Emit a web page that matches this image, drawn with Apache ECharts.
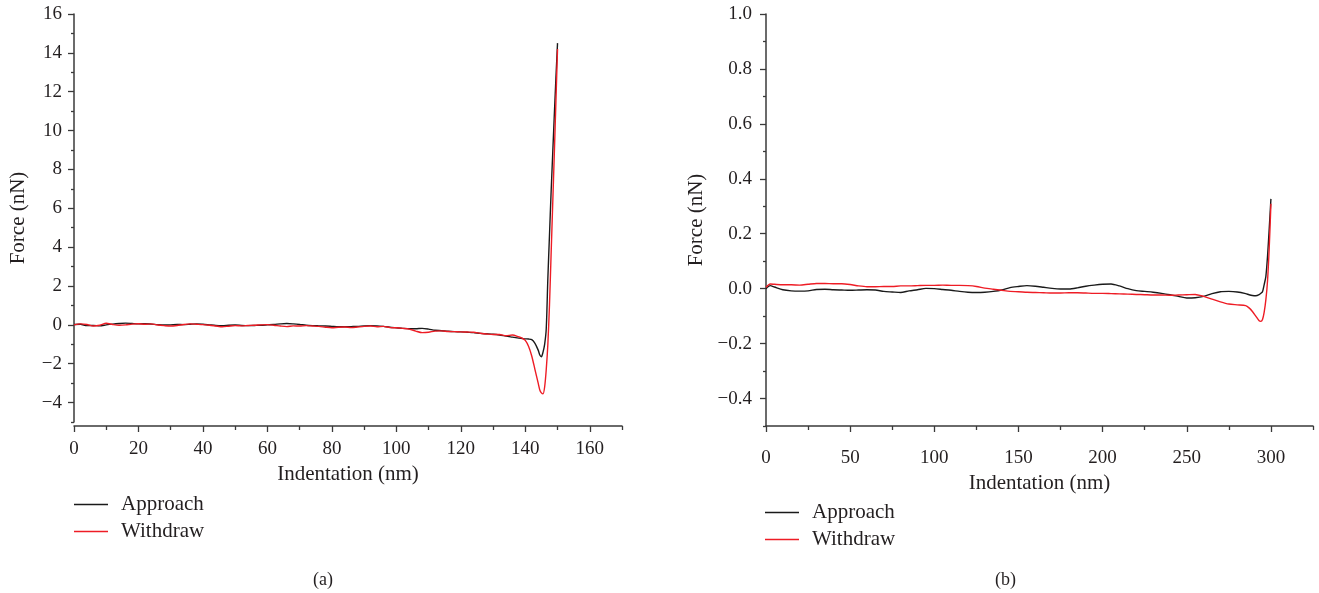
<!DOCTYPE html>
<html>
<head>
<meta charset="utf-8">
<script src="https://cdn.jsdelivr.net/npm/echarts@6/dist/echarts.min.js"></script>
<style>
html,body{margin:0;padding:0;background:#fff;}
#chart{width:1319px;height:593px;}
</style>
</head>
<body>
<div id="chart"></div>
<script>
// ---------- Data: panel (a) ----------
const indentA = [0,2,4,6,8,10,12,14,16,18,20,22,24,26,28,30,32,34,36,38,40,42,44,46,48,50,52,54,56,58,60,62,64,66,68,70,72,74,76,78,80,82,84,86,88,90,92,94,96,98,100,102,104,106,108,110,112,114,116,118,120,122,124,126,128,130,132,134,136,138,139,140,141,142,143,144,144.5,145,145.5,146,146.5,147,147.5,148,148.5,149,149.5,150];
const approachA = [0.02,0.03,-0.04,-0.03,-0.05,0.0,0.04,0.07,0.09,0.07,0.05,0.06,0.04,0.01,-0.01,0.0,0.02,0.01,0.03,0.05,0.03,0.0,-0.03,-0.04,-0.02,-0.01,-0.03,-0.04,-0.03,-0.02,0.0,0.02,0.05,0.07,0.05,0.02,-0.02,-0.04,-0.05,-0.06,-0.08,-0.1,-0.1,-0.09,-0.08,-0.05,-0.04,-0.05,-0.08,-0.12,-0.15,-0.18,-0.2,-0.2,-0.18,-0.22,-0.28,-0.3,-0.33,-0.35,-0.36,-0.38,-0.4,-0.44,-0.46,-0.48,-0.52,-0.58,-0.63,-0.68,-0.7,-0.72,-0.73,-0.76,-0.95,-1.3,-1.55,-1.64,-1.4,-1.0,-0.2,2.4,4.6,6.8,8.8,10.8,12.7,14.5];
const withdrawA = [0.0,0.05,0.02,-0.06,-0.02,0.08,0.02,-0.02,0.0,0.04,0.06,0.03,0.05,-0.01,-0.04,-0.06,-0.03,0.02,0.05,0.03,0.01,-0.02,-0.06,-0.1,-0.07,-0.04,-0.05,-0.03,-0.02,0.0,0.01,-0.02,-0.06,-0.09,-0.05,-0.06,-0.04,-0.06,-0.08,-0.12,-0.15,-0.12,-0.11,-0.14,-0.11,-0.08,-0.06,-0.1,-0.08,-0.14,-0.15,-0.18,-0.22,-0.32,-0.4,-0.38,-0.32,-0.31,-0.34,-0.35,-0.36,-0.37,-0.38,-0.43,-0.47,-0.5,-0.5,-0.56,-0.52,-0.62,-0.68,-0.8,-1.1,-1.6,-2.3,-3.0,-3.35,-3.5,-3.55,-3.2,-2.3,-1.0,1.0,3.6,6.2,8.8,11.5,14.2];

// ---------- Data: panel (b) ----------
const indentB = [0,2.5,5,10,15,20,25,30,35,40,45,50,55,60,65,70,75,80,85,90,95,100,105,110,115,120,125,130,135,140,145,150,155,160,165,170,175,180,185,190,195,200,205,210,215,220,225,230,235,240,245,250,255,260,265,270,275,280,285,287,289,291,293,294,295,296,297,298,299,300];
const approachB = [0.0,0.011,0.006,-0.004,-0.008,-0.009,-0.008,-0.003,-0.002,-0.004,-0.005,-0.006,-0.005,-0.004,-0.005,-0.01,-0.012,-0.014,-0.008,-0.004,0.001,0.0,-0.003,-0.006,-0.01,-0.013,-0.014,-0.013,-0.01,-0.005,0.004,0.008,0.011,0.009,0.005,0.001,-0.001,-0.001,0.003,0.009,0.013,0.016,0.017,0.01,0.0,-0.007,-0.01,-0.013,-0.017,-0.022,-0.028,-0.034,-0.033,-0.028,-0.018,-0.011,-0.01,-0.012,-0.018,-0.022,-0.025,-0.026,-0.022,-0.017,-0.011,0.015,0.045,0.12,0.22,0.327];
const withdrawB = [0.005,0.017,0.016,0.014,0.014,0.013,0.016,0.019,0.019,0.018,0.018,0.015,0.01,0.007,0.007,0.008,0.008,0.01,0.01,0.011,0.012,0.012,0.013,0.012,0.012,0.011,0.008,0.002,-0.002,-0.006,-0.01,-0.011,-0.013,-0.014,-0.015,-0.016,-0.016,-0.015,-0.015,-0.016,-0.017,-0.017,-0.018,-0.019,-0.02,-0.021,-0.022,-0.023,-0.023,-0.024,-0.023,-0.022,-0.021,-0.028,-0.038,-0.048,-0.056,-0.059,-0.062,-0.07,-0.083,-0.1,-0.117,-0.119,-0.112,-0.085,-0.04,0.03,0.15,0.309];

// ---------- Tick values ----------
const yTicksA = [-4,-2,0,2,4,6,8,10,12,14,16];
const yMinorA = [-5,-3,-1,1,3,5,7,9,11,13,15];
const xTicksA = [0,20,40,60,80,100,120,140,160];
const xMinorA = [10,30,50,70,90,110,130,150,170];
const yTicksB = [-0.4,-0.2,0,0.2,0.4,0.6,0.8,1.0];
const yMinorB = [-0.5,-0.3,-0.1,0.1,0.3,0.5,0.7,0.9];
const xTicksB = [0,50,100,150,200,250,300];
const xMinorB = [25,75,125,175,225,275,325];

const seriesNames = ['Approach','Withdraw'];
const captions = ['(a)','(b)'];

const FONT = '"Liberation Serif", "DejaVu Serif", serif';
const TXT = '#231f20';
const AX = '#3a3a3a';
const BLACK = '#1a1a1a';
const RED = '#ee1c25';

function minus(v, dec){
  const s = dec != null ? Math.abs(v).toFixed(dec) : String(Math.abs(v));
  return (v < 0 ? '\u2212' : '') + s;
}
function pairs(xs, ys){ return xs.map((x,i)=>[x, ys[i]]); }

const lineAxis = {show:true, onZero:false, lineStyle:{color:AX, width:1.5}};
const noLine = {show:false, onZero:false};
const labelStyle = {color:TXT, fontFamily:FONT, fontSize:19};
const nameStyle = {fontFamily:FONT, fontSize:21, color:TXT};
const legendText = {fontFamily:FONT, fontSize:21, color:TXT, lineHeight:20, padding:[0,0,0,8]};

const chart = echarts.init(document.getElementById('chart'), null, {renderer:'canvas'});
chart.setOption({
  backgroundColor:'#fff',
  animation:false,
  title: [
    {text:captions[0], left:308, top:566, textStyle:{fontFamily:FONT, fontSize:18, fontWeight:'normal', color:TXT}},
    {text:captions[1], left:990, top:566, textStyle:{fontFamily:FONT, fontSize:18, fontWeight:'normal', color:TXT}}
  ],
  legend: [
    {left:74, top:494, padding:0, orient:'vertical', icon:'rect', itemWidth:34, itemHeight:1.5, itemGap:6, data:seriesNames,
     textStyle:legendText},
    {left:765, top:502, padding:0, orient:'vertical', icon:'rect', itemWidth:34, itemHeight:1.5, itemGap:6, data:seriesNames,
     textStyle:legendText}
  ],
  grid: [
    {left:74, top:14, width:548, height:408},
    {left:766, top:14, width:547, height:412}
  ],
  xAxis: [
    {type:'value', gridIndex:0, position:'bottom', offset:4, min:0, max:170,
     name:'Indentation (nm)', nameLocation:'middle', nameGap:38, nameTextStyle:nameStyle,
     axisLine:lineAxis, splitLine:{show:false},
     axisTick:{customValues:xTicksA, length:6, lineStyle:{color:AX, width:1.3}},
     axisLabel:Object.assign({customValues:xTicksA, margin:14, formatter:v=>minus(v)}, labelStyle)},
    {type:'value', gridIndex:0, position:'bottom', offset:4, min:0, max:170,
     axisLine:noLine, splitLine:{show:false}, axisLabel:{show:false},
     axisTick:{customValues:xMinorA, length:4, lineStyle:{color:AX, width:1.3}}},
    {type:'value', gridIndex:1, position:'bottom', min:0, max:325,
     name:'Indentation (nm)', nameLocation:'middle', nameGap:44, nameTextStyle:nameStyle,
     axisLine:lineAxis, splitLine:{show:false},
     axisTick:{customValues:xTicksB, length:6, lineStyle:{color:AX, width:1.3}},
     axisLabel:Object.assign({customValues:xTicksB, margin:23, formatter:v=>minus(v)}, labelStyle)},
    {type:'value', gridIndex:1, position:'bottom', min:0, max:325,
     axisLine:noLine, splitLine:{show:false}, axisLabel:{show:false},
     axisTick:{customValues:xMinorB, length:4, lineStyle:{color:AX, width:1.3}}}
  ],
  yAxis: [
    {type:'value', gridIndex:0, position:'left', min:-5, max:16,
     name:'Force (nN)', nameLocation:'middle', nameGap:45, nameTextStyle:nameStyle,
     axisLine:lineAxis, splitLine:{show:false},
     axisTick:{customValues:yTicksA, length:6, lineStyle:{color:AX, width:1.3}},
     axisLabel:Object.assign({customValues:yTicksA, margin:12, formatter:v=>minus(v)}, labelStyle)},
    {type:'value', gridIndex:0, position:'left', min:-5, max:16,
     axisLine:noLine, splitLine:{show:false}, axisLabel:{show:false},
     axisTick:{customValues:yMinorA, length:3, lineStyle:{color:AX, width:1.3}}},
    {type:'value', gridIndex:1, position:'left', min:-0.5, max:1.0,
     name:'Force (nN)', nameLocation:'middle', nameGap:59, nameTextStyle:nameStyle,
     axisLine:lineAxis, splitLine:{show:false},
     axisTick:{customValues:yTicksB, length:6, lineStyle:{color:AX, width:1.3}},
     axisLabel:Object.assign({customValues:yTicksB, margin:14, formatter:v=>minus(v,1)}, labelStyle)},
    {type:'value', gridIndex:1, position:'left', min:-0.5, max:1.0,
     axisLine:noLine, splitLine:{show:false}, axisLabel:{show:false},
     axisTick:{customValues:yMinorB, length:3, lineStyle:{color:AX, width:1.3}}}
  ],
  series: [
    {name:seriesNames[0], type:'line', xAxisIndex:0, yAxisIndex:0, data:pairs(indentA, approachA),
     symbol:'none', smooth:0.25, color:BLACK, lineStyle:{width:1.4, color:BLACK}, z:2},
    {name:seriesNames[1], type:'line', xAxisIndex:0, yAxisIndex:0, data:pairs(indentA, withdrawA),
     symbol:'none', smooth:0.25, color:RED, lineStyle:{width:1.4, color:RED}, z:3},
    {name:seriesNames[0], type:'line', xAxisIndex:2, yAxisIndex:2, data:pairs(indentB, approachB),
     symbol:'none', smooth:0.25, color:BLACK, lineStyle:{width:1.4, color:BLACK}, z:2},
    {name:seriesNames[1], type:'line', xAxisIndex:2, yAxisIndex:2, data:pairs(indentB, withdrawB),
     symbol:'none', smooth:0.25, color:RED, lineStyle:{width:1.4, color:RED}, z:3}
  ]
});
</script>
</body>
</html>
